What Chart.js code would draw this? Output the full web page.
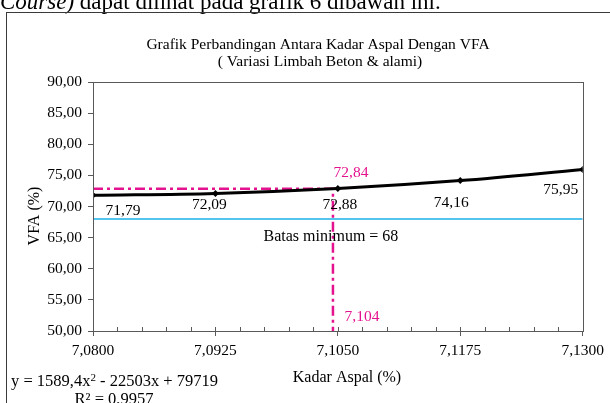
<!DOCTYPE html>
<html>
<head>
<meta charset="utf-8">
<script src="https://cdn.jsdelivr.net/npm/chart.js@4/dist/chart.umd.min.js"></script>
<style>
html,body{margin:0;padding:0;background:#fff;overflow:hidden;}
canvas{display:block;}
</style>
</head>
<body>
<canvas id="chart" width="610" height="403"></canvas>
<script>
/* Data */

const kadarAspal=[7.0800,7.0925,7.1050,7.1175,7.1300];
const vfaValues=[71.79,72.09,72.88,74.16,75.95];
const vfaLabels=["71,79","72,09","72,88","74,16","75,95"];
const xTicks=[7.0800,7.0925,7.1050,7.1175,7.1300];
const yTicks=[50,55,60,65,70,75,80,85,90];
const batasMinimum=68;
const optimumX=7.1045;
const optimumY=72.84;
const optimumXLabel="7,104";
const optimumYLabel="72,84";

/* label nudges (px) - like the hand moved labels in excel */
const labelShift=[[30,16],[-6,11],[2,16],[-9,22],[-22,20]];

const serif="'Liberation Serif','Times New Roman',serif";
const magenta="#E4128F";
const cyan="#19B0E8";
const axisColor="#595959";

function comma(v,d){return v.toFixed(d).replace(".",",");}

/* Extra drawing */

const extras={
id:"extras",
beforeDraw(c){
const ctx=c.ctx;
ctx.save();
ctx.fillStyle="#fff";
ctx.fillRect(0,0,c.width,c.height);
/* page text above the figure */
ctx.fillStyle="#000";
ctx.textBaseline="alphabetic";
ctx.textAlign="left";
ctx.font="italic 23px "+serif;
ctx.fillText("Course)",0,9);
let w=ctx.measureText("Course)").width;
ctx.font="23px "+serif;
ctx.fillText(" dapat dilihat pada grafik 6 dibawah ini.",w,9);
/* figure frame */
ctx.strokeStyle="#3a3a3a";
ctx.lineWidth=1;
ctx.strokeRect(6.5,12.5,640,420);
/* titles */
ctx.textAlign="center";
ctx.textBaseline="middle";
ctx.font="15.5px "+serif;
ctx.fillText("Grafik Perbandingan Antara Kadar Aspal Dengan VFA",318,45);
ctx.fillText("( Variasi Limbah Beton & alami)",320,62);
ctx.restore();
},
afterDraw(c){
const ctx=c.ctx;
const xs=c.scales.x, ys=c.scales.y, a=c.chartArea;
ctx.save();
/* plot frame */
ctx.strokeStyle=axisColor;
ctx.lineWidth=1;
ctx.strokeRect(Math.round(a.left)+0.5,Math.round(a.top)+0.5,Math.round(a.right-a.left),Math.round(a.bottom-a.top));
/* minor x ticks, inside */
for(let i=0;i<=20;i++){
const px=Math.round(xs.getPixelForValue(xTicks[0]+i*0.0025))+0.5;
ctx.beginPath();
ctx.moveTo(px,a.bottom);
ctx.lineTo(px,a.bottom-4);
ctx.stroke();
}
/* data labels */
ctx.fillStyle="#000";
ctx.textAlign="center";
ctx.textBaseline="middle";
ctx.font="15.5px "+serif;
vfaValues.forEach((v,i)=>{
const px=xs.getPixelForValue(kadarAspal[i]);
const py=ys.getPixelForValue(v);
ctx.fillText(vfaLabels[i],px+labelShift[i][0],py+labelShift[i][1]);
});
/* batas minimum */
ctx.font="16px "+serif;
ctx.fillText("Batas minimum = "+batasMinimum,xs.getPixelForValue(optimumX)-2,ys.getPixelForValue(batasMinimum)+18);
/* optimum labels */
ctx.font="15.5px "+serif;
ctx.fillStyle=magenta;
ctx.fillText(optimumYLabel,xs.getPixelForValue(optimumX)+18,ys.getPixelForValue(optimumY)-16);
ctx.fillText(optimumXLabel,xs.getPixelForValue(optimumX)+29,a.bottom-14);
/* axis titles */
ctx.fillStyle="#000";
ctx.font="16px "+serif;
ctx.fillText("Kadar Aspal (%)",347,378);
ctx.save();
ctx.translate(35,216);
ctx.rotate(-Math.PI/2);
ctx.fillText("VFA (%)",0,0);
ctx.restore();
/* trendline equation */
ctx.font="16.5px "+serif;
ctx.textAlign="left";
ctx.fillText("y = 1589,4x",11,382);
let w=ctx.measureText("y = 1589,4x").width;
ctx.font="11px "+serif;
ctx.fillText("2",11+w,378);
let w2=ctx.measureText("2").width;
ctx.font="16.5px "+serif;
ctx.fillText(" - 22503x + 79719",11+w+w2,382);
ctx.textAlign="center";
ctx.fillText("R\u00b2 = 0,9957",114,400);
ctx.restore();
}
};

/* Chart */

const chart=new Chart(document.getElementById("chart"),{
type:"line",
data:{
datasets:[
{
label:"VFA",
data:kadarAspal.map((x,i)=>({x:x,y:vfaValues[i]})),
borderColor:"#000",
backgroundColor:"#000",
borderWidth:3,
tension:0.35,
pointStyle:"rectRot",
pointRadius:3.5,
pointBorderWidth:0,
fill:false,
order:0
},
{
label:"Batas minimum",
data:[{x:xTicks[0],y:batasMinimum},{x:xTicks[xTicks.length-1],y:batasMinimum}],
borderColor:cyan,
borderWidth:1.5,
pointRadius:0,
fill:false,
order:2
},
{
label:"Optimum",
data:[{x:xTicks[0],y:optimumY},{x:optimumX,y:optimumY},{x:optimumX,y:yTicks[0]}],
borderColor:magenta,
borderWidth:2.5,
borderDash:[10,4,3,4],
pointRadius:0,
tension:0,
fill:false,
order:1
}
]
},
options:{
responsive:false,
animation:false,
devicePixelRatio:1,
layout:{padding:{top:82,right:25,bottom:0,left:0}},
plugins:{legend:{display:false},tooltip:{enabled:false},title:{display:false}},
scales:{
x:{
type:"linear",
min:xTicks[0],
max:xTicks[xTicks.length-1],
afterBuildTicks:s=>{s.ticks=xTicks.map(v=>({value:v}));},
afterFit:s=>{s.height=72;},
grid:{drawOnChartArea:false,drawTicks:true,tickLength:5,color:axisColor},
border:{display:true,color:axisColor},
ticks:{
padding:6,
color:"#000",
font:{family:serif,size:15.5},
maxRotation:0,
autoSkip:false,
callback:v=>comma(v,4)
}
},
y:{
min:yTicks[0],
max:yTicks[yTicks.length-1],
afterBuildTicks:s=>{s.ticks=yTicks.map(v=>({value:v}));},
afterFit:s=>{s.width=93;},
grid:{drawOnChartArea:false,drawTicks:true,tickLength:5,color:axisColor},
border:{display:true,color:axisColor},
ticks:{
padding:6,
color:"#000",
font:{family:serif,size:15.5},
callback:v=>comma(v,2)
}
}
}
},
plugins:[extras]
});
</script>
</body>
</html>
